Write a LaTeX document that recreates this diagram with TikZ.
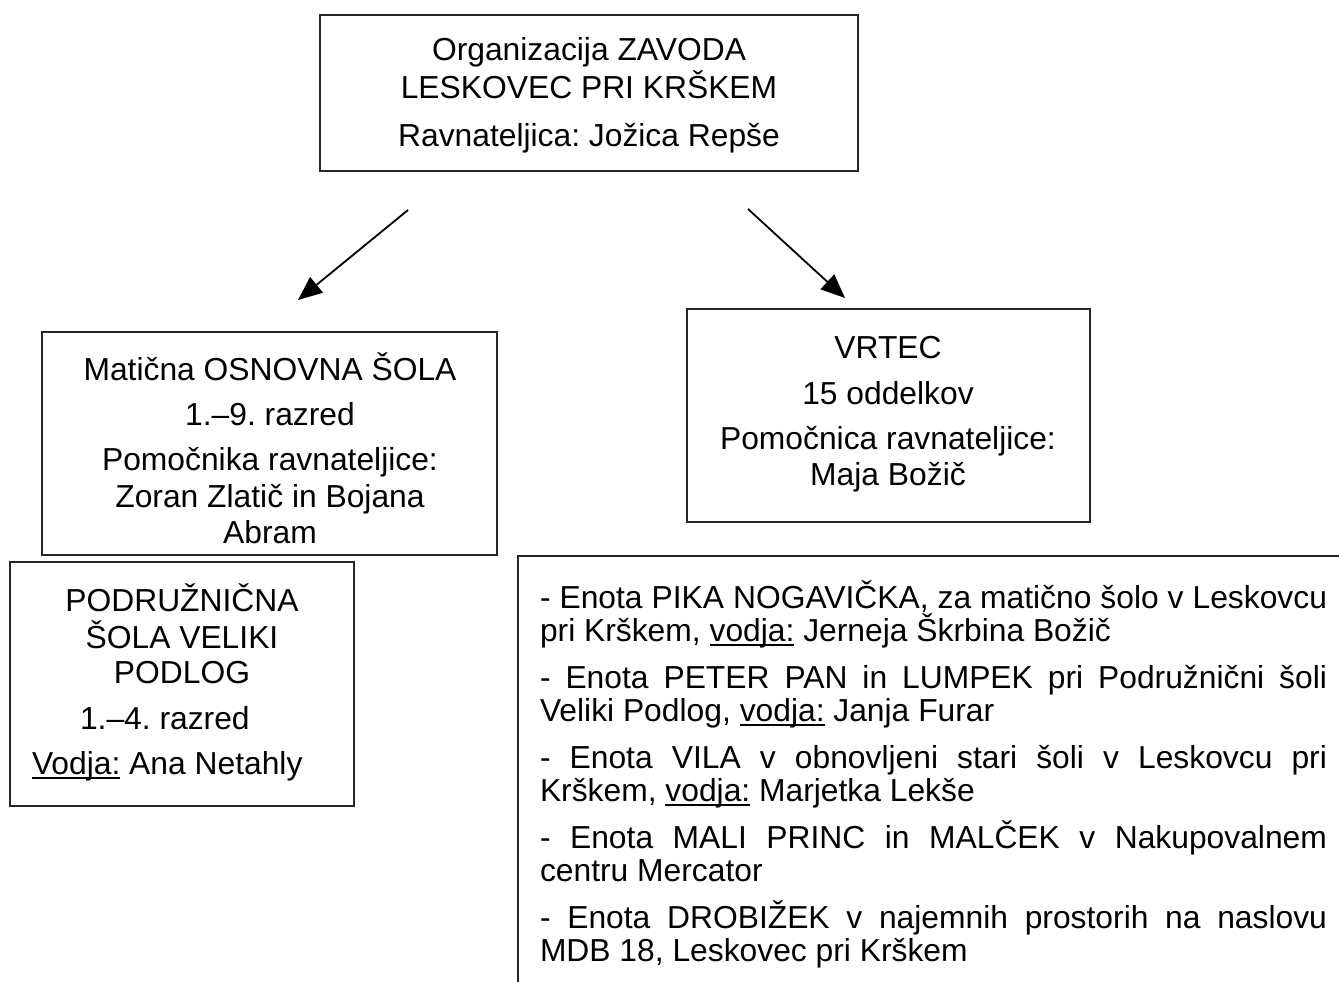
\documentclass[tikz,border=0pt]{standalone}
\usepackage{fontspec}
\setmainfont{Liberation Sans}
\usetikzlibrary{arrows.meta}
\newcommand\myul[1]{{\setbox0\hbox{#1}\rlap{\rule[-5pt]{\wd0}{1.8pt}}\box0}}
\begin{document}
\frenchspacing
\begin{tikzpicture}[x=1pt,y=-1pt,
  boxst/.style={draw=black!85,line width=1.6pt,inner sep=0pt,outer sep=0pt},
  txt/.style={inner sep=0pt,outer sep=0pt,font=\fontsize{31.8}{33}\selectfont},
  ctr/.style={txt,anchor=base},
  lft/.style={txt,anchor=base west},
  arr/.style={line width=1.8pt,-{Triangle[length=24pt,width=20pt]}}]
\useasboundingbox (0,0) rectangle (1339,982);
% boxes
\node[boxst,minimum width=538pt,minimum height=156pt] (top) at (589,93) {};
\node[boxst,minimum width=455pt,minimum height=223pt] (osn) at (269.5,443.5) {};
\node[boxst,minimum width=403pt,minimum height=213pt] (vrt) at (888.5,415.5) {};
\node[boxst,minimum width=344pt,minimum height=244pt] (pod) at (182,684) {};
\coordinate (enTR) at (1339,556);
\coordinate (enTL) at (518,556);
\coordinate (enBL) at (518,982);
\draw[draw=black!85,line width=1.6pt] (enTR) -- (enTL) -- (enBL);
% arrows
\coordinate (a1s) at (408,210);
\coordinate (a1e) at (298,300);
\coordinate (a2s) at (748,209);
\coordinate (a2e) at (845,298);
\draw[arr] (a1s) -- (a1e);
\draw[arr] (a2s) -- (a2e);
% top text
\node[ctr] (t1) at (589,61) {Organizacija ZAVODA};
\node[ctr] (t2) at (589,99) {LESKOVEC PRI KRŠKEM};
\node[ctr] (t3) at (589,146) {Ravnateljica: Jožica Repše};
% osnovna
\node[ctr] (o1) at (270,380) {Matična OSNOVNA ŠOLA};
\node[ctr] (o2) at (270,425) {1.–9. razred};
\node[ctr] (o3) at (270,470) {Pomočnika ravnateljice:};
\node[ctr] (o4) at (270,507) {Zoran Zlatič in Bojana};
\node[ctr] (o5) at (270,543) {Abram};
% vrtec
\node[ctr] (v1) at (888,358) {VRTEC};
\node[ctr] (v2) at (888,404) {15 oddelkov};
\node[ctr] (v3) at (888,449) {Pomočnica ravnateljice:};
\node[ctr] (v4) at (888,485) {Maja Božič};
% podruznicna
\node[ctr] (p1) at (182,611) {PODRUŽNIČNA};
\node[ctr] (p2) at (182,648) {ŠOLA VELIKI};
\node[ctr] (p3) at (182,683) {PODLOG};
\node[lft] (p4) at (80,729) {1.–4. razred};
\node[lft] (p5) at (32,774) {\myul{Vodja:} Ana Netahly};
% enote
\node[lft] (e1) at (540,608) {\makebox[787pt][s]{- Enota PIKA NOGAVIČKA, za matično šolo v Leskovcu}};
\node[lft] (e2) at (540,641) {pri Krškem, \myul{vodja:} Jerneja Škrbina Božič};
\node[lft] (e3) at (540,688) {\makebox[787pt][s]{- Enota PETER PAN in LUMPEK pri Podružnični šoli}};
\node[lft] (e4) at (540,721) {Veliki Podlog, \myul{vodja:} Janja Furar};
\node[lft] (e5) at (540,768) {\makebox[787pt][s]{- Enota VILA v obnovljeni stari šoli v Leskovcu pri}};
\node[lft] (e6) at (540,801) {Krškem, \myul{vodja:} Marjetka Lekše};
\node[lft] (e7) at (540,848) {\makebox[787pt][s]{- Enota MALI PRINC in MALČEK v Nakupovalnem}};
\node[lft] (e8) at (540,881) {centru Mercator};
\node[lft] (e9) at (540,928) {\makebox[787pt][s]{- Enota DROBIŽEK v najemnih prostorih na naslovu}};
\node[lft] (e10) at (540,961) {MDB 18, Leskovec pri Krškem};
\end{tikzpicture}
\end{document}
